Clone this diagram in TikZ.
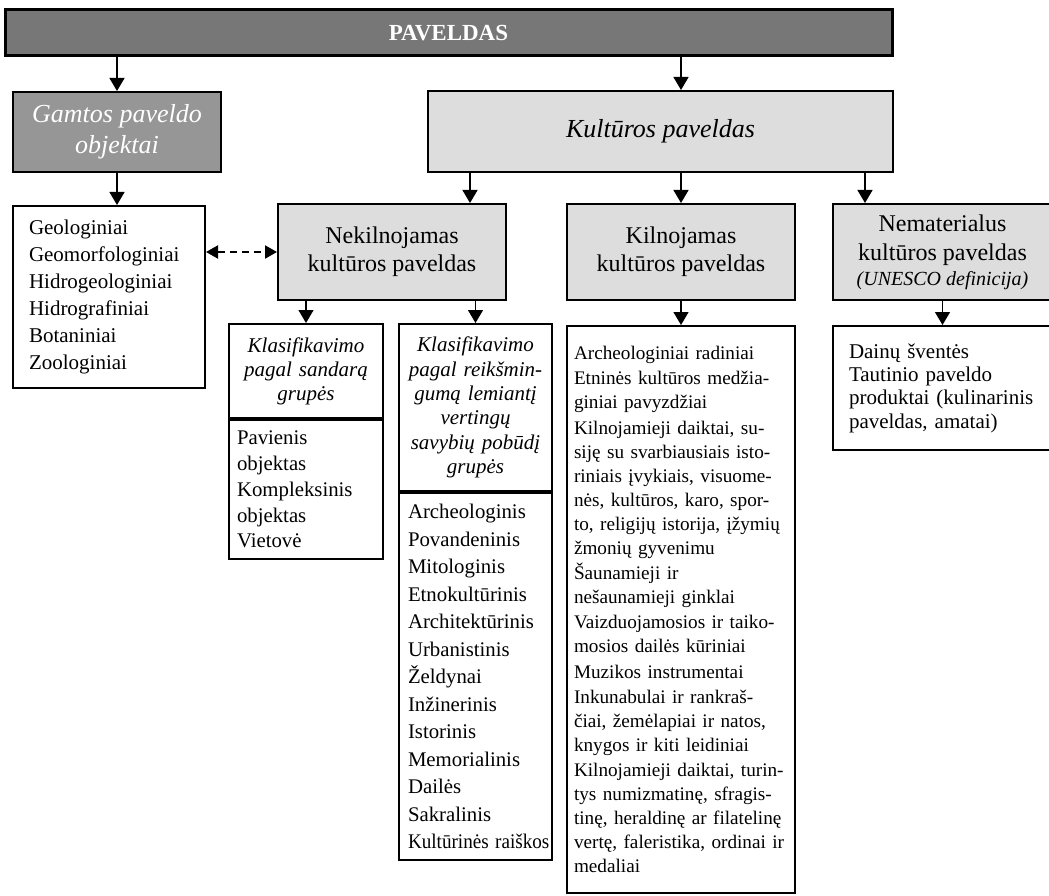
\documentclass[tikz,border=0pt]{standalone}
\usepackage{fontspec}
\setmainfont{Liberation Serif}
\usetikzlibrary{arrows.meta,positioning}
\definecolor{tamsi}{HTML}{777777}
\definecolor{vidutine}{HTML}{969696}
\definecolor{sviesi}{HTML}{DDDDDD}

\begin{document}
\begin{tikzpicture}[x=1pt,y=-1pt,
    blokas/.style={draw,line width=2pt,fill=sviesi,align=center,inner sep=0pt,font=\fontsize{24}{28}\selectfont},
    sarasas/.style={draw,line width=2pt,fill=white,align=left,inner ysep=0pt},
    antraste/.style={draw,line width=2pt,fill=white,align=center,inner xsep=7pt,inner ysep=0pt,text width=139pt,font=\itshape\fontsize{21}{24.4}\selectfont},
    rodykle/.style={-{Triangle[length=13pt,width=15pt]},line width=1.3pt},
    abipus/.style={{Triangle[length=12pt,width=13pt]}-{Triangle[length=12pt,width=13pt]},line width=2pt,dash pattern=on 7pt off 5pt}]
  \useasboundingbox (0,0) rectangle (1049,896);
  \node[blokas,fill=tamsi,text=white,line width=3pt,minimum width=887pt,minimum height=46pt,font=\bfseries\fontsize{23}{28}\selectfont] (pav) at (448.5,33) {PAVELDAS};
  \node[blokas,fill=vidutine,text=white,anchor=north west,minimum width=208pt,minimum height=80pt,font=\itshape\fontsize{26}{31}\selectfont] (gamta) at (12,91) {Gamtos paveldo\\objektai};
  \node[blokas,anchor=north west,minimum width=465pt,minimum height=81pt,font=\itshape\fontsize{26}{31}\selectfont] (kult) at (427,90) {Kultūros paveldas};
  \node[blokas,anchor=north west,minimum width=228pt,minimum height=96pt] (nek) at (277,203) {Nekilnojamas\\kultūros paveldas};
  \node[blokas,right=59pt of nek,minimum width=228pt,minimum height=96pt] (kiln) {Kilnojamas\\kultūros paveldas};
  \node[blokas,right=36pt of kiln,minimum width=219pt,minimum height=96pt,font=\fontsize{24}{29}\selectfont] (nemat) {Nematerialus\\kultūros paveldas\\[-4pt]{\itshape\fontsize{20}{25}\selectfont (UNESCO definicija)}};
  \node[sarasas,below=32pt of gamta.south west,anchor=north west,inner xsep=16pt,text width=160pt,minimum height=182pt,font=\fontsize{21}{27}\selectfont] (gsar) {Geologiniai\\Geomorfologiniai\\Hidrogeologiniai\\Hidrografiniai\\Botaniniai\\Zoologiniai};
  \node[antraste,anchor=north west,text width=140pt,minimum height=94pt,font=\itshape\fontsize{21}{24}\selectfont] (k1) at (228,323) {Klasifikavimo\\pagal sandarą\\grupės};
  \node[antraste,right=14pt of k1.north east,anchor=north west,minimum height=167pt] (k2) {Klasifikavimo\\pagal reikšmin-\\gumą lemiantį\\vertingų\\savybių pobūdį\\grupės};
  \node[sarasas,below=0pt of k1,inner xsep=8pt,text width=138pt,minimum height=139pt,font=\fontsize{20.8}{25.8}\selectfont] (k1s) {Pavienis\\objektas\\Kompleksinis\\objektas\\Vietovė};
  \node[sarasas,below=0pt of k2,inner xsep=9pt,text width=135pt,minimum height=367pt,font=\fontsize{20.8}{27.5}\selectfont] (k2s) {Archeologinis\\Povandeninis\\Mitologinis\\Etnokultūrinis\\Architektūrinis\\Urbanistinis\\Želdynai\\Inžinerinis\\Istorinis\\Memorialinis\\Dailės\\Sakralinis\\\scalebox{0.92}[1]{Kultūrinės raiškos}};
  \node[sarasas,below=24pt of kiln,inner xsep=7pt,text width=214pt,minimum height=567pt,font=\fontsize{19.2}{24}\selectfont] (ksar) {Archeologiniai radiniai\\[1.3pt]
    Etninės kultūros medžia-\\giniai pavyzdžiai\\[1.3pt]
    Kilnojamieji daiktai, su-\\siję su svarbiausiais isto-\\riniais įvykiais, visuome-\\nės, kultūros, karo, spor-\\to, religijų istorija, įžymių\\žmonių gyvenimu\\[1.3pt]
    Šaunamieji ir\\nešaunamieji ginklai\\[1.3pt]
    Vaizduojamosios ir taiko-\\mosios dailės kūriniai\\[1.3pt]
    Muzikos instrumentai\\[1.3pt]
    Inkunabulai ir rankraš-\\čiai, žemėlapiai ir natos,\\knygos ir kiti leidiniai\\[1.3pt]
    Kilnojamieji daiktai, turin-\\tys numizmatinę, sfragis-\\tinę, heraldinę ar filatelinę\\vertę, faleristika, ordinai ir\\medaliai};
  \node[sarasas,below=24pt of nemat,inner xsep=16pt,text width=187pt,minimum height=124pt,font=\fontsize{21}{23.3}\selectfont] (nsar) {Dainų šventės\\Tautinio paveldo\\produktai (kulinarinis\\paveldas, amatai)};
  \coordinate (n1) at ([xshift=-37pt]nek.north east);
  \coordinate (n2) at ([xshift=33pt]nemat.north west);
  \draw[rodykle] (pav.south -| gamta.north) -- (gamta.north); \draw[rodykle] (pav.south -| kiln.north) -- (kult.north -| kiln.north);
  \draw[rodykle] (gamta.south) -- (gamta.south |- gsar.north);
  \draw[rodykle] (kult.south -| n1) -- (n1); \draw[rodykle] (kult.south -| kiln.north) -- (kiln.north); \draw[rodykle] (kult.south -| n2) -- (n2);
  \draw[rodykle] (nek.south -| k1.north) -- (k1.north); \draw[rodykle] (nek.south -| k2.north) -- (k2.north);
  \draw[rodykle] (kiln.south) -- (ksar.north); \draw[rodykle] (nemat.south) -- (nsar.north);
  \draw[abipus] (gsar.east |- nek.west) -- (nek.west);
\end{tikzpicture}
\end{document}
